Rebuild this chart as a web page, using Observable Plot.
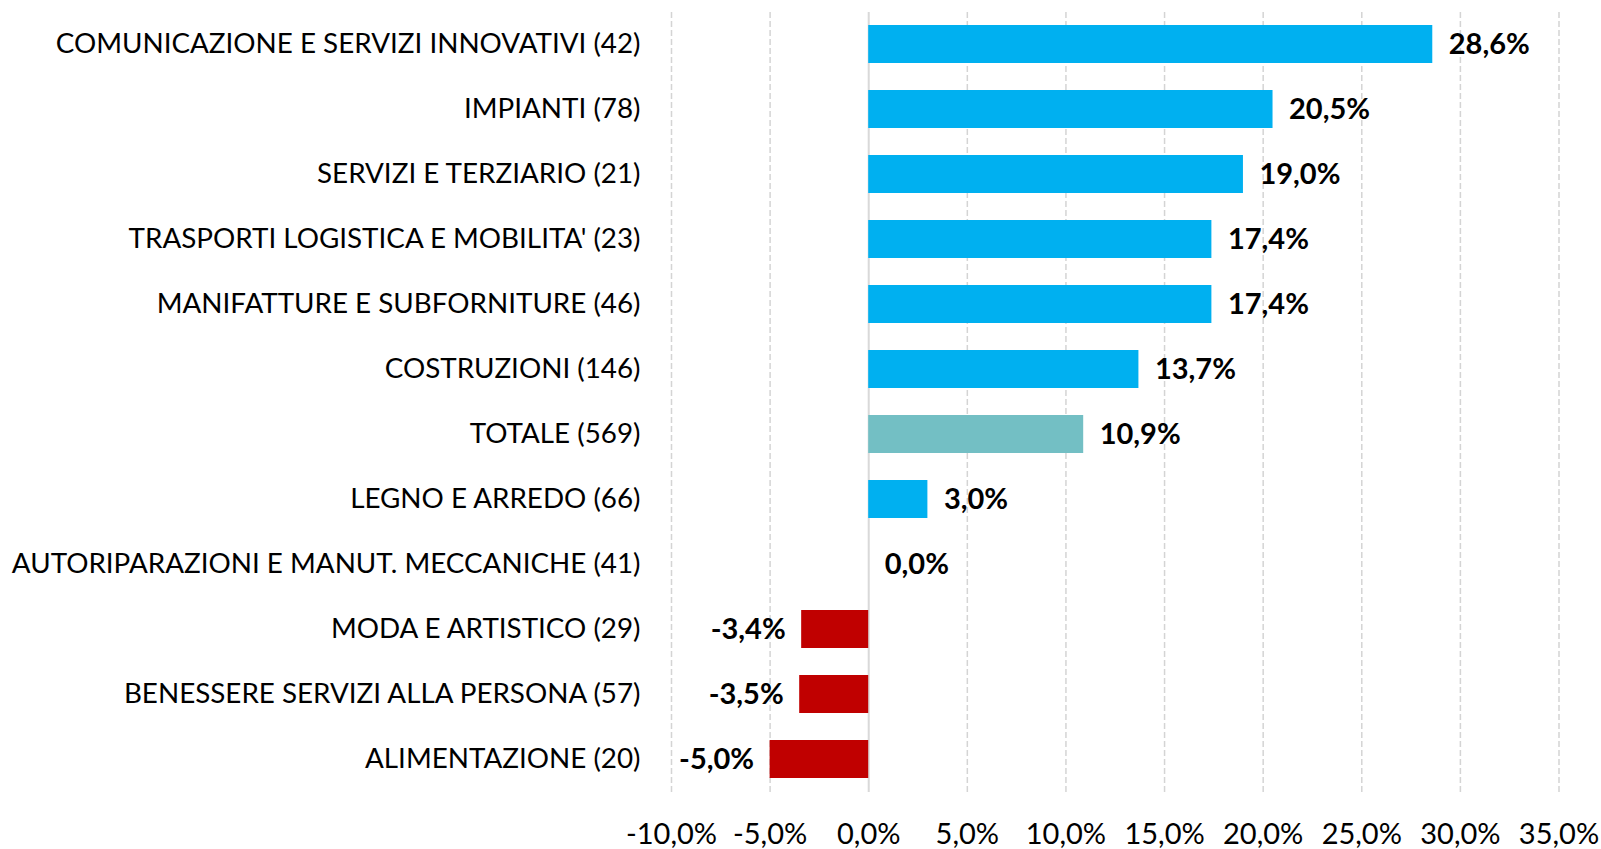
<!DOCTYPE html>
<html>
<head>
<meta charset="utf-8">
<script src="https://cdn.jsdelivr.net/npm/d3@7"></script>
<script src="https://cdn.jsdelivr.net/npm/@observablehq/plot@0.6"></script>
<style>
  html, body { margin: 0; padding: 0; background: #fff; }
  #chart { width: 1601px; height: 849px; }
</style>
</head>
<body>
<div id="chart"></div>
<script>
const categories = [
  "COMUNICAZIONE E SERVIZI INNOVATIVI (42)",
  "IMPIANTI (78)",
  "SERVIZI E TERZIARIO (21)",
  "TRASPORTI LOGISTICA E MOBILITA' (23)",
  "MANIFATTURE E SUBFORNITURE (46)",
  "COSTRUZIONI (146)",
  "TOTALE (569)",
  "LEGNO E ARREDO (66)",
  "AUTORIPARAZIONI E MANUT. MECCANICHE (41)",
  "MODA E ARTISTICO (29)",
  "BENESSERE SERVIZI ALLA PERSONA (57)",
  "ALIMENTAZIONE (20)"
];
const values = [28.6, 20.5, 19.0, 17.4, 17.4, 13.7, 10.9, 3.0, 0.0, -3.4, -3.5, -5.0];
const kinds = ["pos","pos","pos","pos","pos","pos","tot","pos","pos","neg","neg","neg"];
const xTicks = [-10, -5, 0, 5, 10, 15, 20, 25, 30, 35];

const data = categories.map((c, i) => ({category: c, value: values[i], kind: kinds[i]}));
const fmt = d => d.toFixed(1).replace(".", ",") + "%";

const chart = Plot.plot({
  width: 1601,
  height: 849,
  marginLeft: 671,
  marginRight: 42.5,
  marginTop: 12,
  marginBottom: 57,
  style: {fontFamily: "Lato, 'Open Sans', sans-serif", fontSize: "28px", color: "#000", background: "#fff", overflow: "visible"},
  x: {domain: [-10, 35], ticks: xTicks, tickFormat: fmt},
  y: {domain: categories, paddingInner: 0.41, paddingOuter: 0.205},
  color: {domain: ["pos", "tot", "neg"], range: ["#00B0F0", "#73BFC4", "#C00000"]},
  marks: [
    Plot.ruleX(xTicks.filter(d => d !== 0), {stroke: "#d4d4d4", strokeWidth: 1.5, strokeDasharray: "6,3"}),
    Plot.ruleX([0], {stroke: "#d9d9d9", strokeWidth: 2}),
    Plot.barX(data, {x: "value", y: "category", fill: "kind"}),
    Plot.text(data.filter(d => d.value >= 0), {
      x: "value", y: "category", text: d => fmt(d.value),
      textAnchor: "start", dx: 16, fontWeight: "bold", fontSize: 29, fill: "#000"
    }),
    Plot.text(data.filter(d => d.value < 0), {
      x: "value", y: "category", text: d => fmt(d.value),
      textAnchor: "end", dx: -16, fontWeight: "bold", fontSize: 29, fill: "#000"
    }),
    Plot.axisY({tickSize: 0, tickPadding: 31, fontSize: 27.8, label: null}),
    Plot.axisX({ticks: xTicks, tickFormat: fmt, tickSize: 0, tickPadding: 30.5, fontSize: 29, label: null})
  ]
});
document.getElementById("chart").appendChild(chart);
</script>
</body>
</html>
